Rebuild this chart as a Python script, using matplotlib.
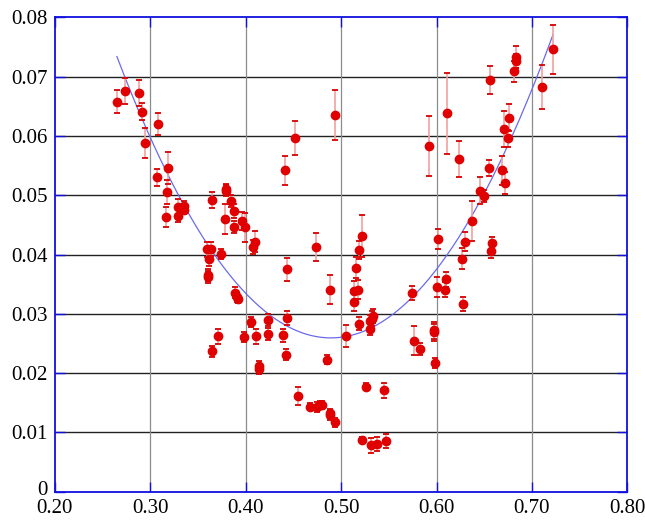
import numpy as np
import matplotlib.pyplot as plt
from matplotlib.transforms import ScaledTranslation

# measured points: x, y and symmetric y-uncertainty
x_vals = [0.2650, 0.2738, 0.2878, 0.2913, 0.2944, 0.3067, 0.3084, 0.3172, 0.3161, 0.3186,
          0.3290, 0.3294, 0.3357, 0.3357, 0.3591, 0.3633, 0.3612, 0.3608, 0.3608, 0.3644,
          0.3650, 0.3706, 0.3744, 0.3783, 0.3790, 0.3790, 0.3849, 0.3877, 0.3877, 0.3891,
          0.3912, 0.3919, 0.3958, 0.3989, 0.3982, 0.4056, 0.4076, 0.4097, 0.4111, 0.4136,
          0.4136, 0.4237, 0.4237, 0.4388, 0.4415, 0.4419, 0.4430, 0.4433, 0.4517, 0.4551,
          0.4677, 0.4737, 0.4747, 0.4782, 0.4803, 0.4855, 0.4887, 0.4887, 0.4887, 0.4936,
          0.4939, 0.5056, 0.5139, 0.5139, 0.5156, 0.5181, 0.5189, 0.5191, 0.5216, 0.5219,
          0.5264, 0.5300, 0.5307, 0.5324, 0.5334, 0.5317, 0.5373, 0.5453, 0.5471,
          0.5746, 0.5761, 0.5822, 0.5921, 0.5971, 0.5978, 0.5988, 0.6008, 0.6015, 0.6084,
          0.6100, 0.6114, 0.6233, 0.6264, 0.6281, 0.6302, 0.6375, 0.6459, 0.6501, 0.6554,
          0.6564, 0.6574, 0.6585, 0.6684, 0.6711, 0.6721, 0.6753, 0.6764, 0.6809, 0.6834,
          0.6834, 0.7109, 0.7221]
y_vals = [0.0658, 0.0676, 0.0672, 0.0641, 0.0588, 0.0530, 0.0620, 0.0506, 0.0463, 0.0546,
          0.0465, 0.0481, 0.0482, 0.0476, 0.0409, 0.0410, 0.0393, 0.0365, 0.0362, 0.0492,
          0.0237, 0.0262, 0.0401, 0.0460, 0.0511, 0.0508, 0.0490, 0.0474, 0.0447, 0.0336,
          0.0328, 0.0325, 0.0457, 0.0446, 0.0261, 0.0286, 0.0413, 0.0422, 0.0262, 0.0212,
          0.0207, 0.0290, 0.0266, 0.0264, 0.0542, 0.0231, 0.0375, 0.0293, 0.0597, 0.0161,
          0.0143, 0.0413, 0.0143, 0.0146, 0.0146, 0.0223, 0.0341, 0.0132, 0.0129, 0.0636,
          0.0117, 0.0263, 0.0338, 0.0320, 0.0378, 0.0341, 0.0283, 0.0408, 0.0088, 0.0431,
          0.0177, 0.0274, 0.0288, 0.0292, 0.0297, 0.0078, 0.0080, 0.0171, 0.0085,
          0.0335, 0.0255, 0.0241, 0.0583, 0.0269, 0.0272, 0.0217, 0.0345, 0.0426, 0.0341,
          0.0358, 0.0638, 0.0561, 0.0393, 0.0317, 0.0422, 0.0457, 0.0508, 0.0499, 0.0546,
          0.0694, 0.0406, 0.0419, 0.0542, 0.0612, 0.0521, 0.0596, 0.0631, 0.0709, 0.0726,
          0.0733, 0.0682, 0.0746]
y_errs = [0.0019, 0.0022, 0.0022, 0.0014, 0.0025, 0.0015, 0.0019, 0.0020, 0.0017, 0.0027,
          0.0010, 0.0012, 0.0008, 0.0008, 0.0013, 0.0012, 0.0012, 0.0010, 0.0010, 0.0014,
          0.0009, 0.0013, 0.0008, 0.0025, 0.0008, 0.0010, 0.0010, 0.0012, 0.0010, 0.0010,
          0.0008, 0.0007, 0.0015, 0.0024, 0.0008, 0.0009, 0.0012, 0.0018, 0.0012, 0.0008,
          0.0008, 0.0010, 0.0010, 0.0011, 0.0025, 0.0009, 0.0019, 0.0011, 0.0029, 0.0015,
          0.0006, 0.0024, 0.0008, 0.0007, 0.0007, 0.0008, 0.0024, 0.0008, 0.0008, 0.0042,
          0.0008, 0.0019, 0.0018, 0.0015, 0.0018, 0.0016, 0.0011, 0.0015, 0.0005, 0.0035,
          0.0006, 0.0010, 0.0010, 0.0012, 0.0012, 0.0012, 0.0012, 0.0013, 0.0012,
          0.0012, 0.0024, 0.0010, 0.0050, 0.0014, 0.0014, 0.0008, 0.0017, 0.0017, 0.0013,
          0.0013, 0.0069, 0.0030, 0.0018, 0.0012, 0.0016, 0.0034, 0.0022, 0.0010, 0.0013,
          0.0024, 0.0012, 0.0011, 0.0024, 0.0030, 0.0018, 0.0014, 0.0023, 0.0018, 0.0012,
          0.0018, 0.0037, 0.0042]

x_ticks = [0.20, 0.30, 0.40, 0.50, 0.60, 0.70, 0.80]
x_ticklabels = ["0.20", "0.30", "0.40", "0.50", "0.60", "0.70", "0.80"]
y_ticks = [0, 0.01, 0.02, 0.03, 0.04, 0.05, 0.06, 0.07, 0.08]
y_ticklabels = ["0", "0.01", "0.02", "0.03", "0.04", "0.05", "0.06", "0.07", "0.08"]

plt.rcParams["font.family"] = ["Liberation Serif", "DejaVu Serif"]

fig = plt.figure(figsize=(6.45, 5.23), dpi=100)
ax = fig.add_axes([0.0851, 0.0598, 0.8875, 0.9069])

x = np.array(x_vals)
y = np.array(y_vals)

# quadratic trend line over the measured range
coef = np.polyfit(x, y, 2)
xs = np.linspace(x.min(), x.max(), 300)
ax.plot(xs, np.polyval(coef, xs), color="#6a6aee", lw=0.9, zorder=2)

line, caps, bars = ax.errorbar(x, y, yerr=y_errs, fmt="o", ms=6, color="#e00000",
                               mec="#e00000", ecolor="#f2a0a0", elinewidth=1.2,
                               capsize=2.5, capthick=1.3, zorder=3)
for c in caps:
    c.set_markeredgecolor("#d80000")

ax.set_xlim(0.2, 0.8)
ax.set_ylim(0, 0.08)
ax.set_xticks(x_ticks)
ax.set_xticklabels(x_ticklabels)
ax.set_yticks(y_ticks)
ax.set_yticklabels(y_ticklabels)

for v in y_ticks[1:-1]:
    ax.axhline(v, color="#222222", lw=1.0, zorder=1)
for v in x_ticks[1:-1]:
    ax.axvline(v, color="#8c8c8c", lw=0.9, zorder=1)

for s in ax.spines.values():
    s.set_color("#1010e0")
    s.set_linewidth(1.3)
ax.tick_params(direction="in", length=7, width=1, color="#1010e0",
               top=True, right=True, labelsize=15, pad=5)
ax.tick_params(axis="x", pad=5)

# lift the "0" label a little so it clears the x labels
zero_lbl = ax.get_yticklabels()[0]
zero_lbl.set_transform(zero_lbl.get_transform()
                       + ScaledTranslation(0, 3 / 72, fig.dpi_scale_trans))

fig.savefig("out.png", dpi=100)
